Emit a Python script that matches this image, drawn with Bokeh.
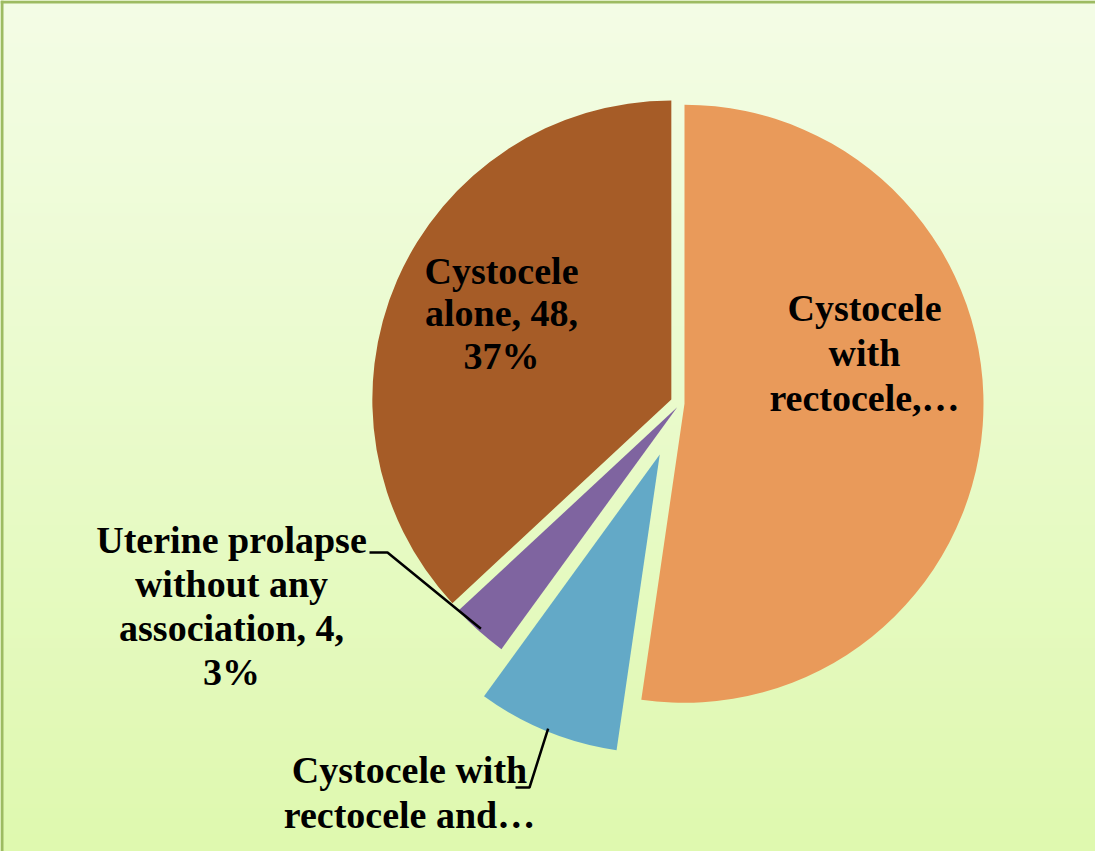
import numpy as np
from bokeh.plotting import figure
from bokeh.models import Span
from bokeh.core.properties import value
from bokeh.embed import file_html
from bokeh.resources import INLINE

# ---- data ----
categories = ["Cystocele with rectocele", "Cystocele with rectocele and enterocele",
              "Uterine prolapse without any association", "Cystocele alone"]
counts = [68, 10, 4, 48]
label_lines = [
    ["Cystocele", "with", "rectocele,\u2026"],
    ["Cystocele with", "rectocele and\u2026"],
    ["Uterine prolapse", "without any", "association, 4,", "3%"],
    ["Cystocele", "alone, 48,", "37%"],
]
colors = ["#e99a5a", "#63a9c7", "#7f64a0", "#a65c27"]

# ---- layout / style ----
W, H = 1095, 851
explode = [4, 55, 5, 10]          # px offset of each slice
radius = 299
center = (680, 448)               # data coords (pixels)
label_pos = [(864, 544), (409, 82), (231, 312), (501, 581)]  # centre x, first baseline y
line_step = [45, 45, 44, 42.5]
leader_elbow = [None, (529, 64), (387, 299), None]
leader_end = [None, (515, 64), (369, 299), None]
font = value("Liberation Serif")

p = figure(width=W, height=H, x_range=(0, W), y_range=(0, H),
           output_backend="svg", toolbar_location=None, min_border=0)
p.axis.visible = False
p.grid.visible = False
p.outline_line_color = None
p.background_fill_color = "#eaf9c8"
p.border_fill_color = "#eaf9c8"

# background gradient
n = 256
t = np.linspace(0, 1, n)[:, None]
top = np.array([244, 253, 230]); bot = np.array([223, 249, 175])
cols = (bot * (1 - t) + top * t).astype(np.uint32)  # row 0 = bottom
img = np.zeros((n, 1), dtype=np.uint32)
view = img.view(dtype=np.uint8).reshape((n, 1, 4))
view[:, :, 0] = cols[:, 0:1]
view[:, :, 1] = cols[:, 1:2]
view[:, :, 2] = cols[:, 2:3]
view[:, :, 3] = 255
p.image_rgba(image=[img], x=0, y=0, dw=W, dh=H)

# border (left & top)
p.add_layout(Span(location=1.5, dimension="height", line_color="#9dbb62", line_width=3))
p.add_layout(Span(location=H - 1.5, dimension="width", line_color="#9dbb62", line_width=3))

total = sum(counts)
cum = np.concatenate([[0], np.cumsum(counts)]) / total * 360.0
for i in range(len(counts)):
    th_s, th_e = cum[i], cum[i + 1]
    th_m = np.radians((th_s + th_e) / 2)
    cx = center[0] + explode[i] * np.sin(th_m)
    cy = center[1] + explode[i] * np.cos(th_m)
    p.wedge(x=cx, y=cy, radius=radius,
            start_angle=np.radians(90 - th_s), end_angle=np.radians(90 - th_e),
            direction="clock", fill_color=colors[i], line_color=None)
    if leader_elbow[i] is not None:
        ax = cx + (radius - 3) * np.sin(th_m)
        ay = cy + (radius - 3) * np.cos(th_m)
        ex, ey = leader_elbow[i]
        fx, fy = leader_end[i]
        p.line(x=[ax, ex, fx], y=[ay, ey, fy], line_color="black", line_width=2.5)
    lx, ly = label_pos[i]
    for k, txt in enumerate(label_lines[i]):
        p.text(x=[lx], y=[ly - k * line_step[i]], text=[txt], text_font=font,
               text_font_style="bold", text_font_size="38px", text_color="black",
               text_align="center", text_baseline="alphabetic")

open("out.html", "w").write(file_html(p, INLINE))
